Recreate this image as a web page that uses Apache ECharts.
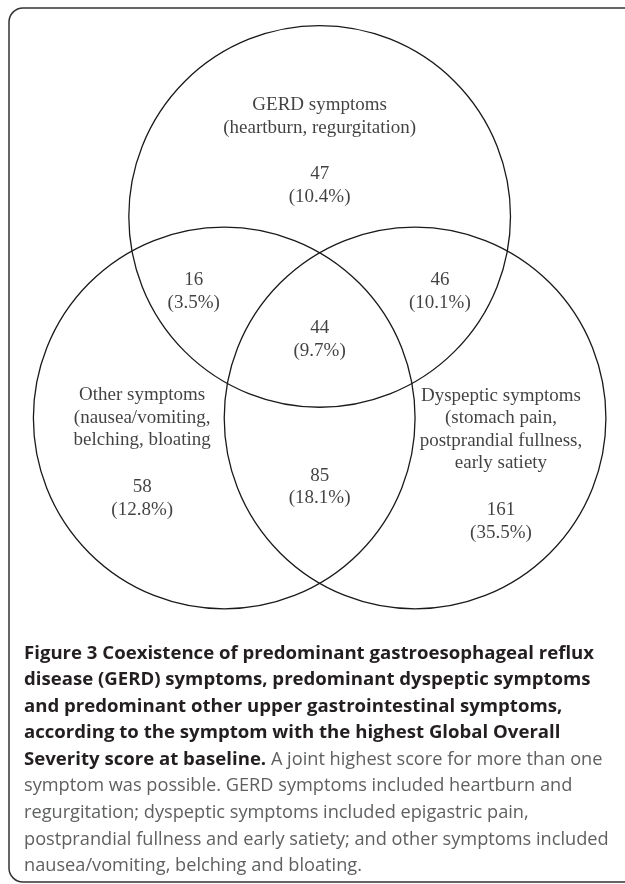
<!DOCTYPE html>
<html>
<head>
<meta charset="utf-8">
<script src="https://cdn.jsdelivr.net/npm/echarts@6/dist/echarts.min.js"></script>
<style>
html,body{margin:0;padding:0;background:#fff;}
#chart{width:625px;height:884px;}
</style>
</head>
<body>
<div id="chart"></div>
<script>
// ---- data ----
const regionNames = ['GERD only', 'GERD + Other', 'GERD + Dyspeptic', 'All three', 'Other only', 'Other + Dyspeptic', 'Dyspeptic only'];
const regionCounts = [47, 16, 46, 44, 58, 85, 161];
const regionPercents = ['10.4', '3.5', '10.1', '9.7', '12.8', '18.1', '35.5'];
const setNames = ['GERD symptoms', 'Other symptoms', 'Dyspeptic symptoms'];
const setDescriptions = ['(heartburn, regurgitation)', '(nausea/vomiting,\nbelching, bloating', '(stomach pain,\npostprandial fullness,\nearly satiety'];
const captionBold = 'Figure 3 Coexistence of predominant gastroesophageal reflux\ndisease (GERD) symptoms, predominant dyspeptic symptoms\nand predominant other upper gastrointestinal symptoms,\naccording to the symptom with the highest Global Overall\nSeverity score at baseline.';
const captionRegular = ' A joint highest score for more than one\nsymptom was possible. GERD symptoms included heartburn and\nregurgitation; dyspeptic symptoms included epigastric pain,\npostprandial fullness and early satiety; and other symptoms included\nnausea/vomiting, belching and bloating.';

// ---- layout (diagram units, circle radius = 1) ----
const circleCenters = [[0, 1.05], [-0.5, 0], [0.5, 0]];
const circleRadius = 1;
const setLabelPos = [[0, 1.57], [-0.93, 0.0], [0.95, -0.06]];
const regionLabelPos = [[0, 1.21], [-0.66, 0.66], [0.63, 0.66], [0, 0.41], [-0.93, -0.42], [0, -0.36], [0.95, -0.54]];

const serif = '"Liberation Serif", "Times New Roman", serif';
const textStyle = {fontFamily: serif, fontSize: 19, lineHeight: 22.5, color: '#111'};

// caption rich text
const boldLines = captionBold.split('\n');
const regLines = captionRegular.split('\n');
let captionText = boldLines.slice(0, -1).map(l => '{b|' + l + '}').join('\n');
captionText += '\n{b|' + boldLines[boldLines.length - 1] + '}{r|' + regLines[0] + '}';
regLines.slice(1).forEach(l => { captionText += '\n{r|' + l + '}'; });

const chart = echarts.init(document.getElementById('chart'), null, {renderer: 'canvas'});
chart.setOption({
  backgroundColor: '#fff',
  animation: false,
  grid: {left: 14.3, top: 14.8, width: 614.4, height: 633.6, show: false},
  xAxis: {type: 'value', min: -1.6, max: 1.6, show: false},
  yAxis: {type: 'value', min: -1.2, max: 2.1, show: false},
  title: {
    left: 24, top: 640, padding: 0,
    text: captionText,
    textStyle: {
      rich: {
        b: {fontFamily: '"Open Sans", sans-serif', fontWeight: 'bold', fontSize: 18.6, lineHeight: 26.6, color: '#231f20'},
        r: {fontFamily: '"Open Sans", sans-serif', fontWeight: 'normal', fontSize: 18.2, lineHeight: 26.6, color: '#5f6062'}
      }
    }
  },
  graphic: [{
    type: 'rect', silent: true,
    shape: {x: 9, y: 8, width: 640, height: 874, r: 14},
    style: {fill: 'none', stroke: '#333', lineWidth: 1.5}
  }],
  series: [
    {
      type: 'custom',
      coordinateSystem: 'cartesian2d',
      data: circleCenters.map((c, i) => [c[0], c[1], circleRadius, setNames[i]]),
      renderItem: function (params, api) {
        const c = api.coord([api.value(0), api.value(1)]);
        const r = api.size([api.value(2), api.value(2)])[0];
        return {type: 'circle', shape: {cx: c[0], cy: c[1], r: r}, style: {fill: 'none', stroke: '#1a1a1a', lineWidth: 1.3}};
      },
      z: 2
    },
    {
      type: 'scatter',
      symbolSize: 0,
      data: setLabelPos.map((p, i) => ({value: p, name: setNames[i], desc: setDescriptions[i]})),
      label: {
        show: true, position: 'inside',
        formatter: p => p.data.name + '\n' + p.data.desc,
        ...textStyle
      },
      z: 3
    },
    {
      type: 'scatter',
      symbolSize: 0,
      data: regionLabelPos.map((p, i) => ({value: p, name: regionNames[i], count: regionCounts[i], pct: regionPercents[i]})),
      label: {
        show: true, position: 'inside',
        formatter: p => p.data.count + '\n(' + p.data.pct + '%)',
        ...textStyle
      },
      z: 3
    }
  ]
});
</script>
</body>
</html>
